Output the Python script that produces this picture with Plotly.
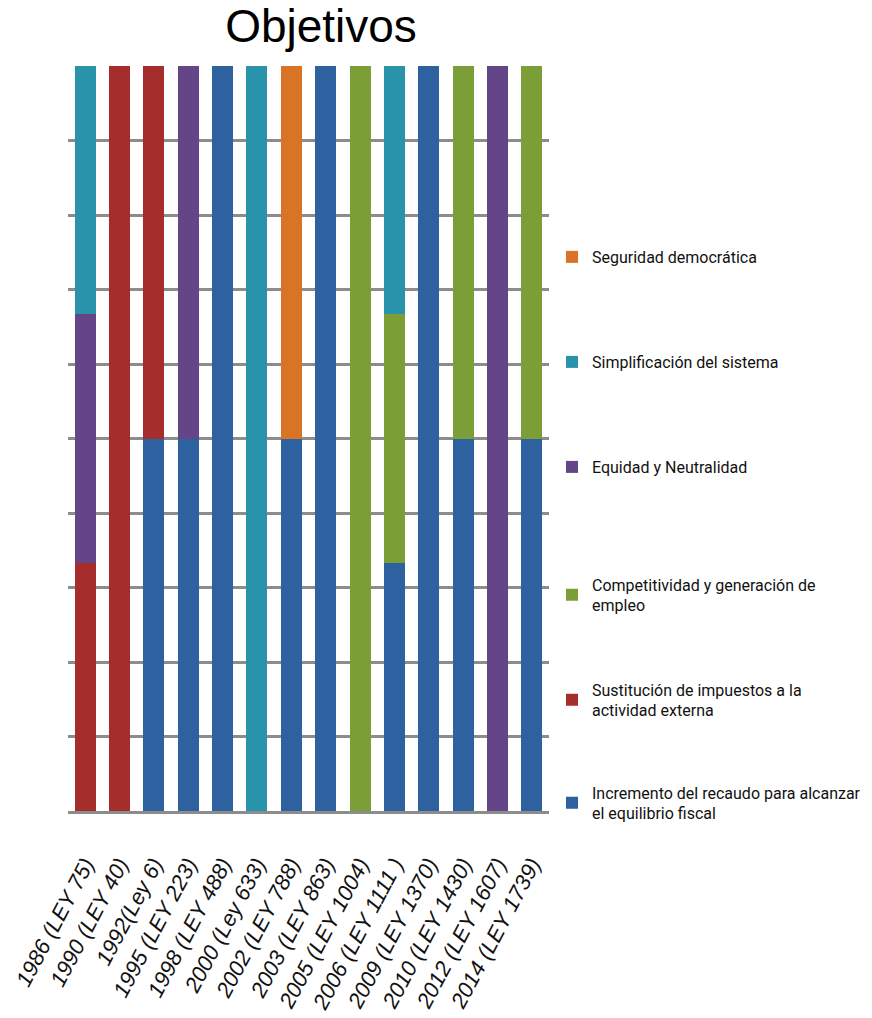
import plotly.graph_objects as go

# Laws / reforms on the horizontal axis
categories = [
    "1986 (LEY 75)", "1990 (LEY 40)", "1992(Ley 6)", "1995 (LEY 223)",
    "1998 (LEY 488)", "2000 (Ley 633)", "2002 (LEY 788)", "2003 (LEY 863)",
    "2005 (LEY 1004)", "2006 (LEY 1111 )", "2009 (LEY 1370)", "2010 (LEY 1430)",
    "2012 (LEY 1607)", "2014 (LEY 1739)",
]

# Objectives pursued by each reform (1 = objective present)
incremento = [0, 0, 1, 1, 1, 0, 1, 1, 0, 1, 1, 1, 0, 1]
sustitucion = [1, 1, 1, 0, 0, 0, 0, 0, 0, 0, 0, 0, 0, 0]
competitividad = [0, 0, 0, 0, 0, 0, 0, 0, 1, 1, 0, 1, 0, 1]
equidad = [1, 0, 0, 1, 0, 0, 0, 0, 0, 0, 0, 0, 1, 0]
simplificacion = [1, 0, 0, 0, 0, 1, 0, 0, 0, 1, 0, 0, 0, 0]
seguridad = [0, 0, 0, 0, 0, 0, 1, 0, 0, 0, 0, 0, 0, 0]

series_names = [
    "Incremento del recaudo para alcanzar<br>el equilibrio fiscal",
    "Sustitución de impuestos a la<br>actividad externa",
    "Competitividad y generación de<br>empleo",
    "Equidad y Neutralidad",
    "Simplificación del sistema",
    "Seguridad democrática",
]
series_values = [incremento, sustitucion, competitividad, equidad, simplificacion, seguridad]
series_colors = ["#2d61a0", "#a52e2d", "#7c9e37", "#644688", "#2a93ac", "#d97426"]

W, H = 872, 1018
# vertical centre (px) of each legend entry
legend_centers = [803, 700, 595, 467, 362, 257]

LEG_FONT = "Roboto, Liberation Sans, Arial, sans-serif"
TICK_FONT = "Liberation Sans, Arial, sans-serif"

fig = go.Figure()
layout_legends = {}
for i, (name, vals, col, yc) in enumerate(zip(series_names, series_values, series_colors, legend_centers)):
    key = "legend" if i == 0 else f"legend{i + 1}"
    fig.add_trace(go.Bar(
        x=categories, y=vals, name=name, marker=dict(color=col, line=dict(width=0)),
        legend=key, showlegend=True,
    ))
    layout_legends[key] = dict(
        xref="container", yref="container",
        x=552 / W, y=1 - yc / H, xanchor="left", yanchor="middle",
        font=dict(family=LEG_FONT, size=16, color="#111111"),
        bgcolor="rgba(0,0,0,0)", itemclick=False, visible=True,
    )

fig.update_layout(
    barmode="stack",
    barnorm="percent",
    bargap=0.39,
    width=W, height=H,
    showlegend=True,
    margin=dict(l=68, r=W - 549, t=66, b=H - 811, autoexpand=False),
    paper_bgcolor="white",
    plot_bgcolor="white",
    title=dict(
        text="Objetivos", xref="container", yref="container",
        x=321 / W, y=1 - 26 / H, xanchor="center", yanchor="middle",
        font=dict(family="Liberation Sans, Arial, sans-serif", size=46, color="black"),
    ),
    xaxis=dict(
        showline=True, linecolor="#8c8c8c", linewidth=2.5,
        showgrid=False, tickangle=-62,
        ticks="outside", ticklen=29, tickcolor="rgba(0,0,0,0)",
        tickfont=dict(family=TICK_FONT, size=22, color="#111111", style="italic"),
        automargin=False,
    ),
    yaxis=dict(
        range=[0, 100], dtick=10, showgrid=True, gridcolor="#8c8c8c", gridwidth=2.5,
        showticklabels=False, zeroline=False, showline=False, automargin=False,
    ),
    **layout_legends,
)

fig.write_html("out.html")
